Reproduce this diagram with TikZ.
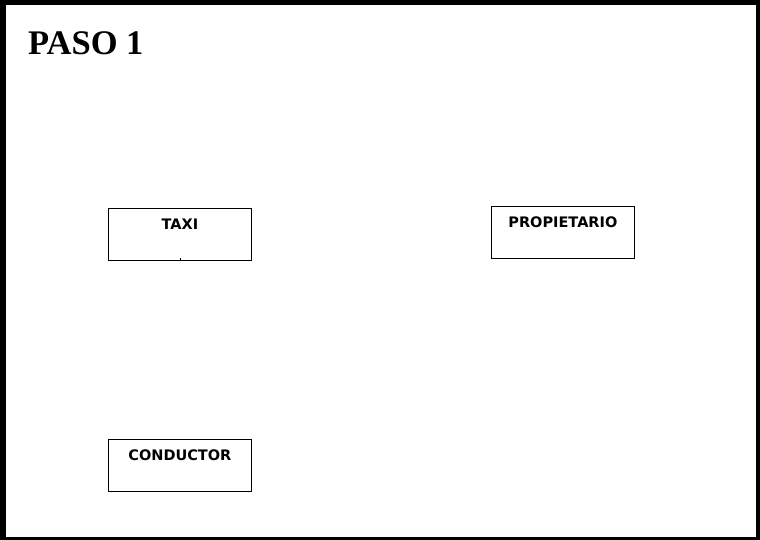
\documentclass[tikz,border=0pt]{standalone}
\usepackage{fontspec}
\setmainfont{Liberation Serif}
\newfontfamily\cajafont{DejaVu Sans Bold}
\usetikzlibrary{positioning}

\tikzset{
  entidad/.style={draw, line width=0.8pt, anchor=north west, inner sep=0pt,
    minimum width=143pt, text height=21pt, text depth=31pt,
    font=\cajafont\fontsize{14.5}{16}\selectfont}
}

\begin{document}
\begin{tikzpicture}[x=1pt, y=-1pt]
  % Marco de la hoja
  \useasboundingbox (0,0) rectangle (760,540);
  \fill[black] (0,0) rectangle (760,540);
  \fill[white] (6,5) rectangle (756,537);

  % Titulo
  \node[anchor=base west, inner sep=0pt, font=\bfseries\fontsize{34.5}{38}\selectfont] (titulo) at (28,55) {PASO 1};

  % Entidades
  \node[entidad] (taxi) at (108,208) {TAXI};
  \node[entidad] (propietario) at (491,206) {PROPIETARIO};
  \node[entidad] (conductor) at (108,439) {CONDUCTOR};

  % Marca pequena bajo TAXI
  \draw[line width=0.8pt] (taxi.south) -- ++(0,-3);
\end{tikzpicture}
\end{document}
